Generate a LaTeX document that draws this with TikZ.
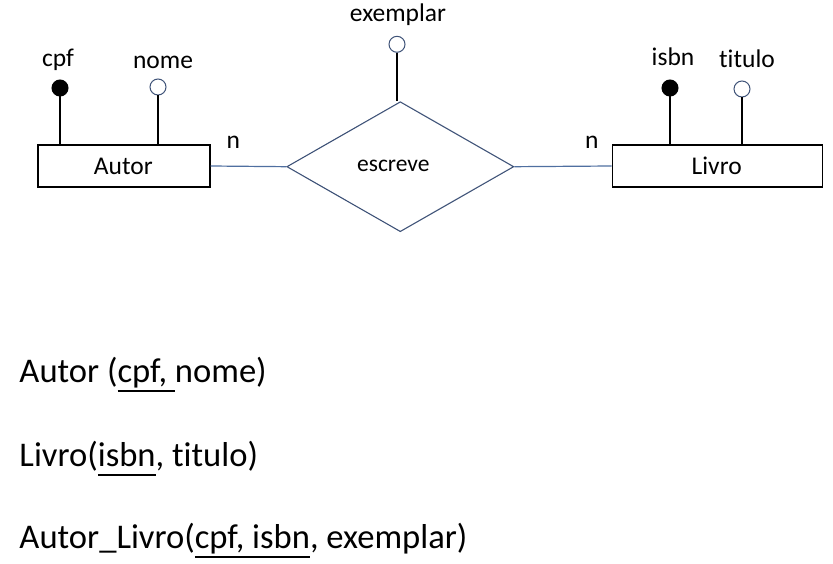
\documentclass[tikz,border=0pt]{standalone}
\usepackage{fontspec}
\setmainfont{Carlito}[Ligatures=NoCommon]
\usetikzlibrary{shapes.geometric}
\definecolor{connblue}{HTML}{4F6FA0}
\definecolor{shapeblue}{HTML}{3F5378}
\newcommand{\ulx}[1]{\setbox0\hbox{#1}\rlap{\rule[-9.5pt]{\wd0}{2pt}}\box0}
\tikzset{
  entbox/.style={draw=black, line width=1.3pt, minimum width=172pt, minimum height=42pt, inner sep=0pt},
  relbox/.style={draw=shapeblue, line width=1.1pt, shape=diamond, minimum width=227pt, minimum height=130pt, inner sep=0pt},
  keyattr/.style={circle, draw=black, fill=black, line width=1pt, minimum size=16pt, inner sep=0pt},
  plainattr/.style={circle, draw=shapeblue, fill=white, line width=1pt, minimum size=16pt, inner sep=0pt},
  lbl/.style={anchor=base, inner sep=0pt, font=\fontsize{25.5}{30}\selectfont},
  schema/.style={anchor=base west, inner sep=0pt, font=\fontsize{34.6}{40}\selectfont},
  attrline/.style={draw=black, line width=1.2pt},
  relline/.style={draw=connblue, line width=1.2pt}
}
\begin{document}
\begin{tikzpicture}[x=1pt,y=-1pt]
\useasboundingbox (0,0) rectangle (833,564);
% entities
\node[entbox] (autor) at (124,166) {};
\node[entbox, minimum width=210pt] (livro) at (717.3,166) {};
\node[lbl] (autort) at (123.3,174.3) {Autor};
\node[lbl] (livrot) at (716.7,175) {Livro};
% relationship
\node[relbox] (rel) at (400.3,166.7) {};
\node[lbl, font=\fontsize{23.5}{28}\selectfont] (relt) at (393.3,171.7) {escreve};
% attributes
\node[keyattr] (cpf) at (60,88) {};
\node[plainattr] (nome) at (158,87) {};
\node[plainattr] (exemplar) at (397,44.3) {};
\node[keyattr] (isbn) at (670,88) {};
\node[plainattr] (titulo) at (742,89) {};
\node[lbl] (cpft) at (58,67) {cpf};
\node[lbl] (nomet) at (163,68.3) {nome};
\node[lbl] (exemplart) at (398,21.7) {exemplar};
\node[lbl] (isbnt) at (673,65.7) {isbn};
\node[lbl] (titulot) at (747,67.3) {titulo};
% attribute lines
\draw[attrline] (cpf.south) -- (cpf.south |- autor.north);
\draw[attrline] (nome.south) -- (nome.south |- autor.north);
\draw[attrline] (exemplar.south) -- (exemplar.south |- rel.north);
\draw[attrline] (isbn.south) -- (isbn.south |- livro.north);
\draw[attrline] (titulo.south) -- (titulo.south |- livro.north);
% relationship lines
\draw[relline] (autor.east) -- (rel.west);
\draw[relline] (rel.east) -- (livro.west);
\node[lbl] (n1) at (233.3,149) {n};
\node[lbl] (n2) at (591.7,148.3) {n};
% schema
\node[schema] (s1) at (19.3,382.3) {Autor (\ulx{cpf, }nome)};
\node[schema] (s2) at (19.3,466) {Livro(\ulx{isbn}, titulo)};
\node[schema] (s3) at (19.3,548.3) {Autor\_Livro(\ulx{cpf, isbn}, exemplar)};
\end{tikzpicture}
\end{document}
